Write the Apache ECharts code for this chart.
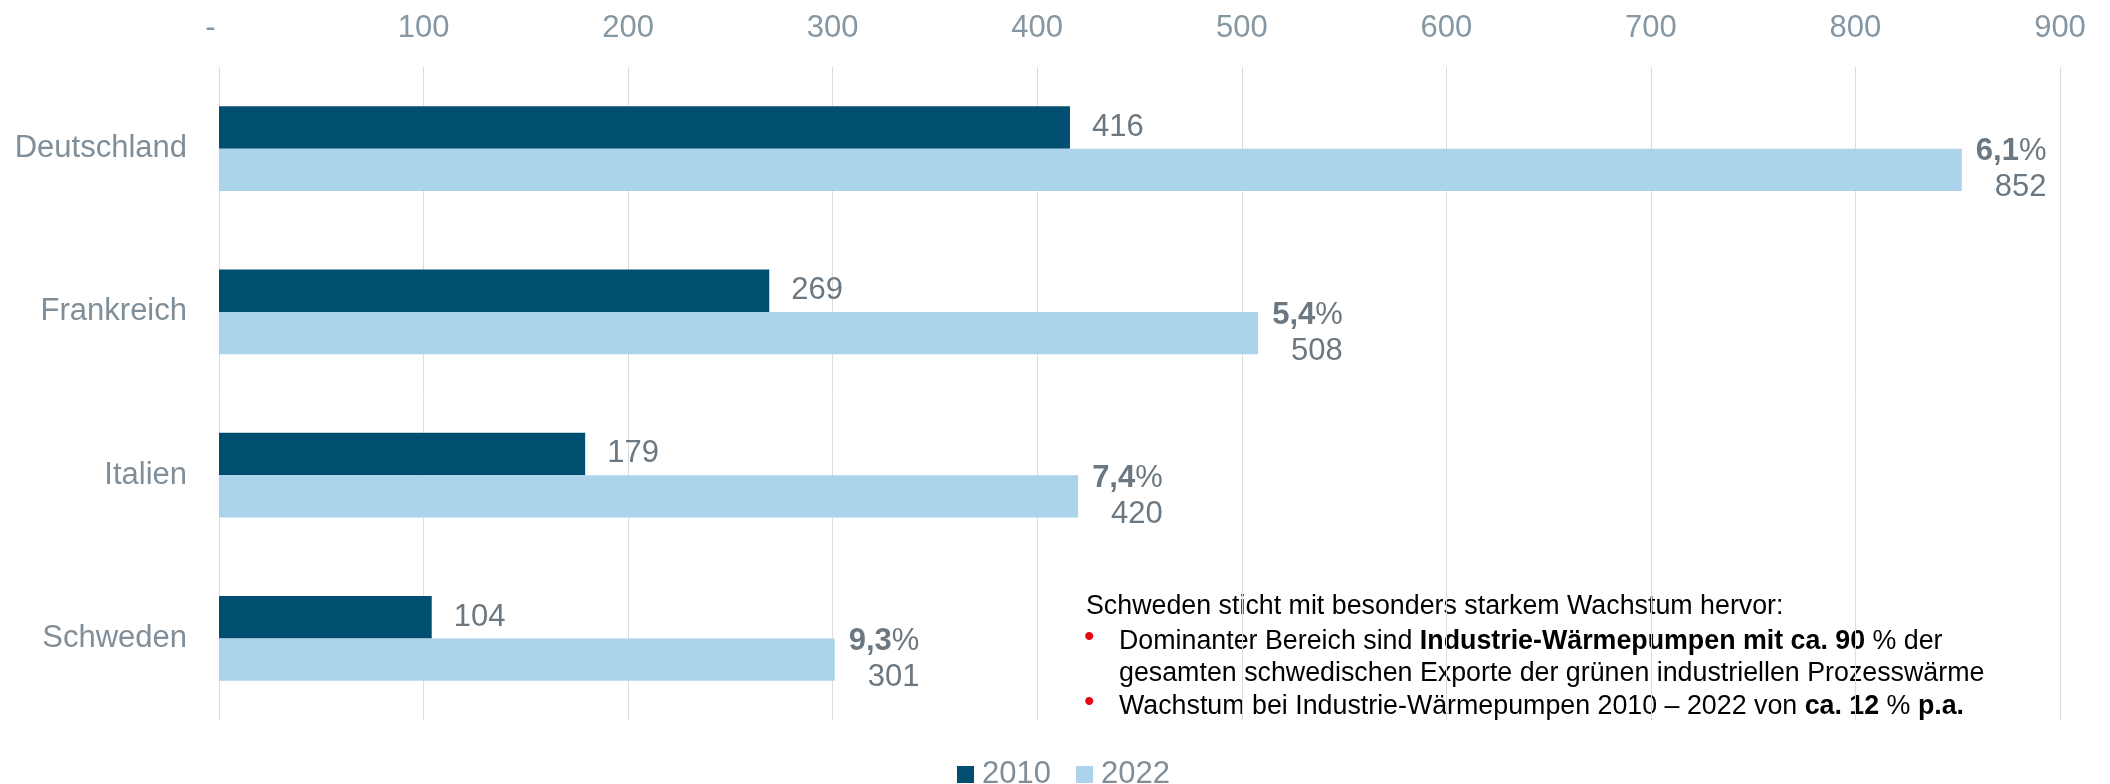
<!DOCTYPE html>
<html>
<head>
<meta charset="utf-8">
<script src="https://cdn.jsdelivr.net/npm/echarts@6/dist/echarts.min.js"></script>
<style>
  html, body { margin: 0; padding: 0; background: #ffffff; }
  #chart { width: 2110px; height: 784px; }
</style>
</head>
<body>
<div id="chart"></div>
<script>
// ---- data ----
const categories = ['Deutschland', 'Frankreich', 'Italien', 'Schweden'];
const seriesNames = ['2010', '2022'];
const values2010 = [416, 269, 179, 104];
const values2022 = [852, 508, 420, 301];
const growthPA = ['6,1', '5,4', '7,4', '9,3'];
const tickZeroLabel = '-';

const noteTitle = 'Schweden sticht mit besonders starkem Wachstum hervor:';
const note1a = 'Dominanter Bereich sind ';
const note1b = 'Industrie-Wärmepumpen mit ca. 90';
const note1c = ' % der';
const note1d = 'gesamten schwedischen Exporte der grünen industriellen Prozesswärme';
const note2a = 'Wachstum bei Industrie-Wärmepumpen 2010 – 2022 von ';
const note2b = 'ca. 12';
const note2c = ' % ';
const note2d = 'p.a.';

// ---- chart ----
const FONT = '"Liberation Sans", Arial, sans-serif';
const NOTE_FONT = '26.8px ' + FONT;
const NOTE_BOLD = 'bold 26.8px ' + FONT;
const DARK = '#004f71';
const LIGHT = '#abd3eb';
const LABEL = '#6b7882';
const AXIS = '#7f8e99';

const chart = echarts.init(document.getElementById('chart'), null, { renderer: 'canvas' });

chart.setOption({
  backgroundColor: '#ffffff',
  animation: false,
  textStyle: { fontFamily: FONT },
  grid: { left: 219, right: 50, top: 67, bottom: 64, containLabel: false },
  xAxis: {
    type: 'value',
    position: 'top',
    min: 0, max: 900, interval: 100,
    axisLine: { show: false },
    axisTick: { show: false },
    axisLabel: {
      fontSize: 31, color: '#8597a3', fontFamily: FONT, margin: 23,
      formatter: v => v === 0 ? tickZeroLabel + '\u00a0\u00a0' : String(v)
    },
    splitLine: { show: true, lineStyle: { color: '#dcdcdc', width: 1 } }
  },
  yAxis: {
    type: 'category',
    data: categories,
    inverse: true,
    axisLine: { show: false },
    axisTick: { show: false },
    axisLabel: { fontSize: 31, color: AXIS, fontFamily: FONT, margin: 32 },
    splitLine: { show: false }
  },
  legend: {
    data: seriesNames,
    left: 952, top: 754,
    itemWidth: 17, itemHeight: 17, itemGap: 25,
    icon: 'rect',
    textStyle: { fontSize: 31, color: AXIS, fontFamily: FONT, padding: [0, 0, 0, 3] }
  },
  series: [
    {
      name: seriesNames[0], type: 'bar', data: values2010,
      barGap: '0%', barCategoryGap: '48%',
      itemStyle: { color: DARK },
      label: { show: true, position: 'right', distance: 22, fontSize: 31, color: LABEL, fontFamily: FONT }
    },
    {
      name: seriesNames[1], type: 'bar', data: values2022,
      barGap: '0%', barCategoryGap: '48%',
      itemStyle: { color: LIGHT },
      label: {
        show: true, position: 'right', distance: 14,
        formatter: p => '{b|' + growthPA[p.dataIndex] + '}{n|%}\n{v|' + p.value + '}',
        rich: {
          b: { fontSize: 31, fontWeight: 'bold', color: LABEL, fontFamily: FONT, lineHeight: 36 },
          n: { fontSize: 31, color: LABEL, fontFamily: FONT, lineHeight: 36 },
          v: { fontSize: 31, color: LABEL, fontFamily: FONT, lineHeight: 36, align: 'right' }
        }
      }
    }
  ],
  graphic: [
    { type: 'text', x: 1086, y: 607, style: { text: noteTitle, font: NOTE_FONT, fill: '#000', verticalAlign: 'middle' } },
    { type: 'text', x: 1084, y: 638, style: { text: '•', font: '30px ' + FONT, fill: '#e30613', verticalAlign: 'middle' } },
    { type: 'text', x: 1119, y: 642, style: {
        text: '{n|' + note1a + '}{b|' + note1b + '}{n|' + note1c + '}',
        verticalAlign: 'middle',
        rich: {
          n: { font: NOTE_FONT, fill: '#000' },
          b: { font: NOTE_BOLD, fill: '#000' }
        }
    } },
    { type: 'text', x: 1119, y: 674, style: { text: note1d, font: NOTE_FONT, fill: '#000', verticalAlign: 'middle' } },
    { type: 'text', x: 1084, y: 703, style: { text: '•', font: '30px ' + FONT, fill: '#e30613', verticalAlign: 'middle' } },
    { type: 'text', x: 1119, y: 707, style: {
        text: '{n|' + note2a + '}{b|' + note2b + '}{n|' + note2c + '}{b|' + note2d + '}',
        verticalAlign: 'middle',
        rich: {
          n: { font: NOTE_FONT, fill: '#000' },
          b: { font: NOTE_BOLD, fill: '#000' }
        }
    } }
  ]
});
</script>
</body>
</html>
